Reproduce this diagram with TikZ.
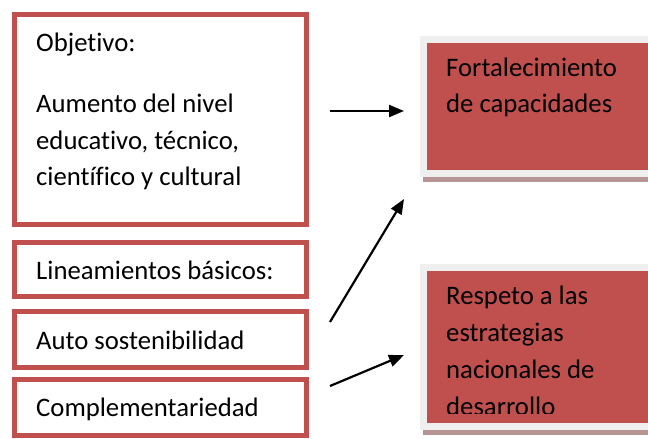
\documentclass[tikz,border=0pt]{standalone}
\usepackage{fontspec}
\setmainfont{Carlito}[Ligatures=NoCommon]
\usetikzlibrary{arrows.meta}
\definecolor{boxred}{HTML}{C0504D}
\definecolor{framegray}{HTML}{EFEFEF}
\definecolor{shadowred}{HTML}{B89595}
\tikzset{
  leftbox/.style={draw=boxred, line width=5bp, fill=white},
  rightbox/.style={draw=framegray, fill=boxred, line width=7bp},
  txt/.style={inner sep=0pt, anchor=base west, align=left, font=\fontsize{26.8}{37}\selectfont},
  arr/.style={line width=2.2bp, -{Triangle[length=15bp,width=12bp]}}
}
\begin{document}
\begin{tikzpicture}[x=1bp,y=-1bp]
    \clip (0,0) rectangle (648,439);
    \fill[white] (0,0) rectangle (648,439);

    \coordinate (objout) at (330,111);
    \coordinate (fortin) at (404,111);
    \coordinate (autoout) at (330,322);
    \coordinate (fortlow) at (404,199);
    \coordinate (compout) at (330,386);
    \coordinate (respin) at (404,355);

    \node[leftbox, minimum width=292bp, minimum height=210bp] (obj) at (160.5,119.5) {};
    \node[leftbox, minimum width=292bp, minimum height=54bp] (lin) at (160.5,269.5) {};
    \node[leftbox, minimum width=292bp, minimum height=56bp] (auto) at (160.5,339.5) {};
    \node[leftbox, minimum width=292bp, minimum height=56bp] (comp) at (160.5,407.5) {};

    % multi-line texts sit on the baseline of their last line
    \node[txt] (objhead) at (36,52) {Objetivo:};
    \node[txt] (objtext) at (36,186) {Aumento del nivel\\educativo, técnico,\\científico y cultural};
    \node[txt] (lintext) at (36,280) {Lineamientos básicos:};
    \node[txt] (autotext) at (36,349) {Auto sostenibilidad};
    \node[txt] (comptext) at (36,416) {Complementariedad};

    \fill[shadowred] (423,177.5) rectangle (648,182.5);
    \node[rightbox, minimum width=276.5bp, minimum height=134bp] (fort) at (561.75,106.5) {};
    \node[txt] (forttext) at (446,113) {Fortalecimiento\\de capacidades};

    \fill[shadowred] (423,430) rectangle (648,435);
    \node[rightbox, minimum width=276.5bp, minimum height=159bp] (resp) at (561.75,347) {};
    \begin{scope}
        \clip (427,272) rectangle (648,413.5);
        \node[txt] (resptext) at (446,415) {Respeto a las\\estrategias\\nacionales de\\desarrollo};
    \end{scope}

    \draw[arr] (objout) -- (fortin);
    \draw[arr] (autoout) -- (fortlow);
    \draw[arr] (compout) -- (respin);
\end{tikzpicture}
\end{document}
